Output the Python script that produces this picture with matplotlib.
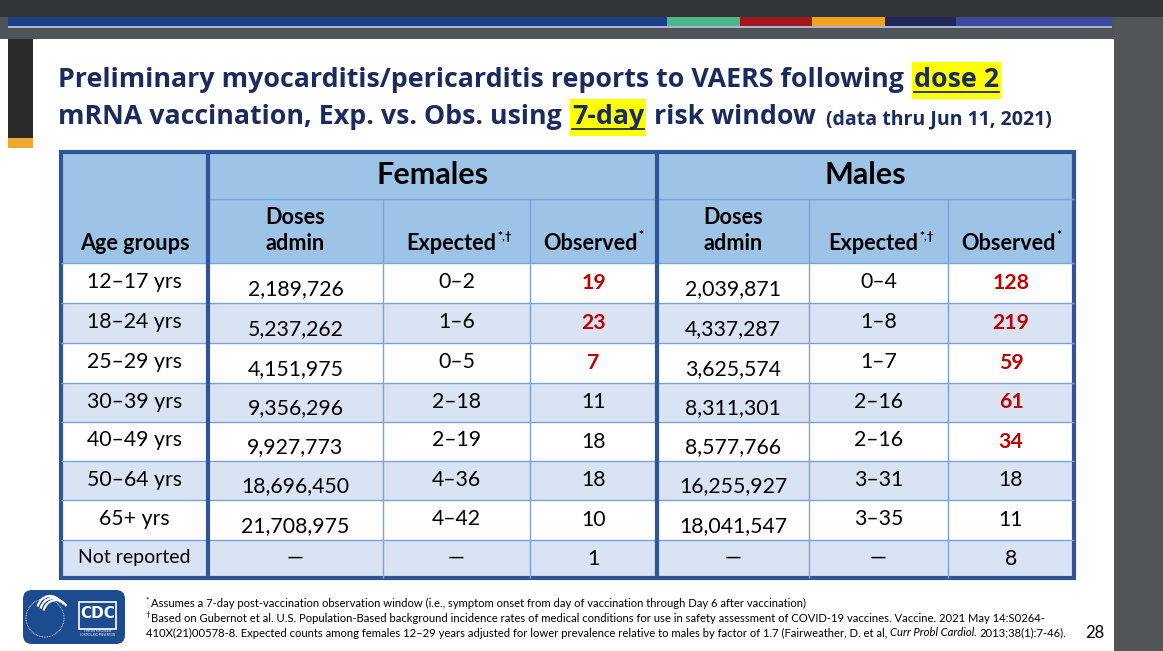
import matplotlib
matplotlib.use("Agg")
import matplotlib.pyplot as plt
from matplotlib.patches import Rectangle, FancyBboxPatch, Circle, Arc

plt.rcParams['font.family'] = ['Lato', 'DejaVu Sans']

# data
age_groups = ["12–17 yrs", "18–24 yrs", "25–29 yrs", "30–39 yrs",
              "40–49 yrs", "50–64 yrs", "65+ yrs", "Not reported"]
f_doses = [2189726, 5237262, 4151975, 9356296, 9927773, 18696450, 21708975, None]
f_exp_lo = [0, 1, 0, 2, 2, 4, 4, None]
f_exp_hi = [2, 6, 5, 18, 19, 36, 42, None]
f_obs = [19, 23, 7, 11, 18, 18, 10, 1]
m_doses = [2039871, 4337287, 3625574, 8311301, 8577766, 16255927, 18041547, None]
m_exp_lo = [0, 1, 1, 2, 2, 3, 3, None]
m_exp_hi = [4, 8, 7, 16, 16, 31, 35, None]
m_obs = [128, 219, 59, 61, 34, 18, 11, 8]

W, H = 1163, 651
fig = plt.figure(figsize=(W / 100, H / 100), dpi=100)
fig.patch.set_facecolor('white')
ax = fig.add_axes([0, 0, 1, 1])
ax.set_xlim(0, W)
ax.set_ylim(H, 0)
ax.axis('off')
r = fig.canvas.get_renderer()

NAVY = '#1a2b5f'
RED = '#c00000'
BORDER = '#2f5597'
THIN = '#7aa3dc'
HEAD = '#9dc3e6'
ALT = '#dae3f3'
TFONT = ['Open Sans', 'DejaVu Sans']


def rect(x0, y0, x1, y1, color, **kw):
    ax.add_patch(Rectangle((x0, y0), x1 - x0, y1 - y0, facecolor=color,
                           edgecolor='none', **kw))


# window chrome around the slide
rect(0, 0, W, 17, '#323639')
rect(0, 17, W, 39, '#505457')
rect(1114, 17, W, H, '#525659')
bar = [(8, 667, '#1c3f87'), (667, 740, '#4cb88a'), (740, 812, '#a3161c'),
       (812, 885, '#f0a21e'), (885, 956, '#232659'), (956, 1112, '#3d4a9c')]
for x0, x1, c in bar:
    rect(x0, 17, x1, 26, c)
rect(8, 26, 1112, 28, '#a9b5d3')
rect(8, 39, 33, 138, '#2b2b2b')
rect(8, 138, 33, 148, '#f0a830')


def width(t):
    return t.get_window_extent(renderer=r).width


def fit(s, target, size=10, **kw):
    # font size that makes s span `target` pixels
    t = ax.text(0, 0, s, fontsize=size, **kw)
    w = width(t)
    t.remove()
    return size * target / w


def run(x, y, s, size, gap=0.0, **kw):
    t = ax.text(x, y, s, fontsize=size, va='center', ha='left', **kw)
    return t, x + width(t) + gap


def hilite(t, y):
    bb = t.get_window_extent(renderer=r)
    rect(bb.x0 - 2, y - 18, bb.x1 + 2, y + 19, '#ffff00', zorder=0)
    ax.plot([bb.x0, bb.x1], [y + 12, y + 12], color=NAVY, lw=1.3)


# title
line1 = "Preliminary myocarditis/pericarditis reports to VAERS following"
tkw = dict(color=NAVY, fontweight='bold', family=TFONT)
ts = fit(line1, 847, **tkw)
sp = 10
_, x = run(58, 80, line1, ts, sp, **tkw)
t, x = run(x, 80, "dose 2", ts, **tkw)
hilite(t, 80)
_, x = run(58, 117, "mRNA vaccination, Exp. vs. Obs. using", ts, sp, **tkw)
t, x = run(x, 117, "7-day", ts, sp, **tkw)
hilite(t, 117)
_, x = run(x, 117, "risk window", ts, sp, **tkw)
sub = "(data thru Jun 11, 2021)"
run(x, 119, sub, fit(sub, 226, **tkw), **tkw)

# table geometry
cols = [61, 208, 383, 530, 657, 809, 948, 1074]
rows = [152, 199, 263, 303, 343, 383, 422, 461, 500, 540, 578]

rect(cols[0], rows[0], cols[-1], rows[2], HEAD)
for i in range(len(age_groups)):
    rect(cols[0], rows[i + 2], cols[-1], rows[i + 3], 'white' if i % 2 == 0 else ALT)

lw_thin = 1.0
ax.hlines(rows[1], cols[1], cols[-1], color=THIN, lw=lw_thin)
ax.hlines(rows[2:-1], cols[0], cols[-1], color=THIN, lw=lw_thin)
ax.vlines([cols[2], cols[3], cols[5], cols[6]], rows[1], rows[-1], color=THIN, lw=lw_thin)
ax.vlines([cols[1], cols[4]], rows[0], rows[-1], color=BORDER, lw=3.0)
ax.add_patch(Rectangle((cols[0], rows[0]), cols[-1] - cols[0], rows[-1] - rows[0],
                       facecolor='none', edgecolor=BORDER, lw=3.0))

hs = 15.6
ds = 15.3


def cx(i):
    return (cols[i] + cols[i + 1]) / 2


def sup_head(x, y, main, sup):
    t = ax.text(x, y, main, fontsize=hs, fontweight='bold', ha='center', va='center')
    bb = t.get_window_extent(renderer=r)
    ax.text(bb.x1 + 1, y - 7, sup, fontsize=hs * 0.55, fontweight='bold',
            ha='left', va='center')


ax.text(cx(0), 244, "Age groups", fontsize=hs, fontweight='bold', ha='center', va='center')
ax.text((cols[1] + cols[4]) / 2, 175, "Females", fontsize=22, fontweight='bold',
        ha='center', va='center')
ax.text((cols[4] + cols[7]) / 2, 175, "Males", fontsize=22, fontweight='bold',
        ha='center', va='center')
for k in (1, 4):
    ax.text(cx(k), 218, "Doses", fontsize=hs, fontweight='bold', ha='center', va='center')
    ax.text(cx(k), 243, "admin", fontsize=hs, fontweight='bold', ha='center', va='center')
    sup_head(cx(k + 1) - 5, 243, "Expected", "*,†")
    sup_head(cx(k + 2) - 3, 243, "Observed", "*")


def fmt_exp(lo, hi):
    return "—" if lo is None else f"{lo}–{hi}"


for i, ag in enumerate(age_groups):
    yc = (rows[i + 2] + rows[i + 3]) / 2
    ax.text(cx(0), yc - 1, ag, fontsize=ds if i < 7 else 14, ha='center', va='center')
    for k, doses, lo, hi, obs in ((1, f_doses, f_exp_lo, f_exp_hi, f_obs),
                                  (4, m_doses, m_exp_lo, m_exp_hi, m_obs)):
        d = doses[i]
        ax.text(cx(k), yc + (6 if d is not None else -1), "—" if d is None else f"{d:,}",
                fontsize=ds, ha='center', va='center')
        ax.text(cx(k + 1), yc - 1, fmt_exp(lo[i], hi[i]), fontsize=ds,
                ha='center', va='center')
        high = hi[i] is not None and obs[i] > hi[i]
        ax.text(cx(k + 2), yc, str(obs[i]), fontsize=ds, ha='center', va='center',
                color=RED if high else 'black', fontweight='bold' if high else 'normal')

# footnotes
fs = 8.1
ax.text(146, 600, "*", fontsize=5.8, va='center', ha='left')
run(151, 603, "Assumes a 7-day post-vaccination observation window (i.e., symptom onset "
    "from day of vaccination through Day 6 after vaccination)", fs)
ax.text(146, 615, "†", fontsize=5.8, va='center', ha='left')
run(151, 618, "Based on Gubernot et al. U.S. Population-Based background incidence rates "
    "of medical conditions for use in safety assessment of COVID-19 vaccines. "
    "Vaccine. 2021 May 14:S0264-", fs)
fsp = 2.5
_, x = run(146, 633, "410X(21)00578-8. Expected counts among females 12–29 years adjusted "
           "for lower prevalence relative to males by factor of 1.7 (Fairweather, D. et al,",
           fs, fsp)
_, x = run(x, 633, "Curr Probl Cardiol.", fs, fsp, style='italic')
run(x, 633, "2013;38(1):7-46).", fs)
ax.text(1095, 633, "28", fontsize=12, ha='center', va='center')

# CDC / HHS logo block
ax.add_patch(FancyBboxPatch((23, 590), 102, 54, boxstyle="round,pad=0,rounding_size=9",
                            facecolor='#1d4b8f', edgecolor='none'))
ax.add_patch(Circle((45, 618), 19, facecolor='none', edgecolor='white', lw=0.6,
                    ls=(0, (1, 1))))
for k in range(3):
    ax.add_patch(Arc((50 + k * 3, 611 + k * 2), 26, 30, theta1=200, theta2=320,
                     color='white', lw=1.6))
ax.add_patch(Rectangle((79, 602), 37, 27, facecolor='#1d4b8f', edgecolor='white', lw=1.2))
ax.text(97.5, 614, "CDC", fontsize=11, color='white', fontweight='bold',
        ha='center', va='center', family=['Liberation Sans Narrow', 'DejaVu Sans'])
ax.text(97.5, 633, "CENTERS FOR DISEASE\nCONTROL AND PREVENTION", fontsize=1.8,
        color='white', ha='center', va='center')

fig.savefig("out.png", dpi=100)
